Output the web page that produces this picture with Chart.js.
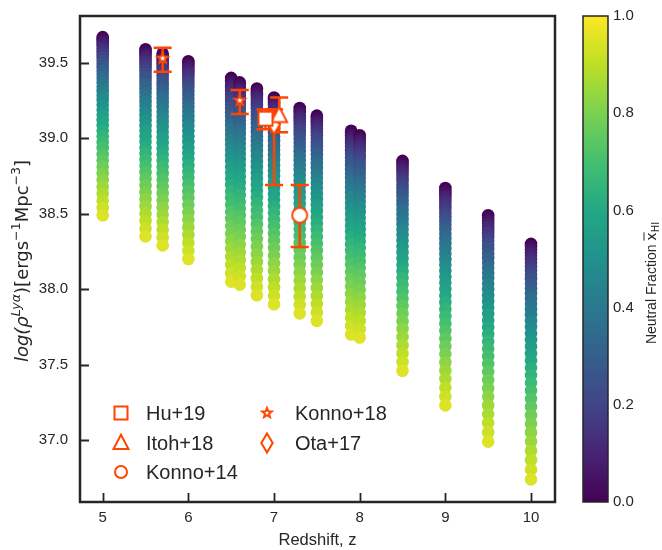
<!DOCTYPE html>
<html>
<head>
<meta charset="utf-8">
<script src="https://cdn.jsdelivr.net/npm/chart.js@4.4.0/dist/chart.umd.min.js"></script>
<style>
html, body { margin: 0; padding: 0; background: #fff; }
#wrap { width: 662px; height: 550px; }
</style>
</head>
<body>
<div id="wrap"><canvas id="lyaChart" width="662" height="550"></canvas></div>
<script>
// ---- data ----
const redshifts = [5, 5.5, 5.7, 6, 6.5, 6.6, 6.8, 7, 7.3, 7.5, 7.9, 8, 8.5, 9, 9.5, 10];
// log rho_Lya at the most ionised end (x_HI = 0) and the most neutral end of each column
const logRhoTop = [39.67, 39.59, 39.56, 39.51, 39.40, 39.37, 39.33, 39.27, 39.20, 39.15, 39.05, 39.02, 38.85, 38.67, 38.49, 38.30];
const logRhoBottom = [38.49, 38.35, 38.29, 38.20, 38.05, 38.03, 37.96, 37.90, 37.84, 37.79, 37.70, 37.68, 37.46, 37.23, 36.99, 36.74];
// neutral fraction of each point in a column, and how far down the column it sits (0 = top, 1 = bottom)
const neutralFraction = [0, 0.025, 0.05, 0.075, 0.1, 0.125, 0.15, 0.175, 0.2, 0.225, 0.25, 0.275, 0.3, 0.325,
  0.35, 0.375, 0.4, 0.425, 0.45, 0.475, 0.5, 0.525, 0.55, 0.575, 0.6, 0.625, 0.65, 0.675, 0.7, 0.725,
  0.75, 0.775, 0.8, 0.825, 0.85, 0.875, 0.9, 0.925, 0.95];
const dropProfile = [0, 0.0113, 0.0233, 0.0362, 0.0499, 0.0645, 0.0798, 0.0959, 0.1129, 0.1307, 0.1492, 0.1686,
  0.1888, 0.2099, 0.2317, 0.2544, 0.2778, 0.3021, 0.3272, 0.3531, 0.3798, 0.4074, 0.4357, 0.4649, 0.4948,
  0.5257, 0.5572, 0.5897, 0.6229, 0.657, 0.6918, 0.7275, 0.764, 0.8013, 0.8394, 0.8784, 0.918, 0.9587, 1];

// observations
const hu19Z = [6.9], hu19Y = [39.13], hu19Up = [0.06], hu19Lo = [0.07];
const itoh18Z = [7.06], itoh18Y = [39.15], itoh18Up = [0.12], itoh18Lo = [0.11];
const konno14Z = [7.3], konno14Y = [38.49], konno14Up = [0.20], konno14Lo = [0.21];
const konno18Z = [5.7, 6.6], konno18Y = [39.53, 39.25], konno18Up = [0.07, 0.07], konno18Lo = [0.09, 0.09];
const ota17Z = [7.0], ota17Y = [39.09], ota17Up = [0.10], ota17Lo = [0.40];

const xTicks = [5, 6, 7, 8, 9, 10];
const yTicks = [37.0, 37.5, 38.0, 38.5, 39.0, 39.5];
const cbTicks = [0, 0.2, 0.4, 0.6, 0.8, 1.0];

// ---- style ----
const ORANGE = '#ff4500';
const INK = '#262626';
const FONT = "'Liberation Sans', Arial, sans-serif";
const MATHFONT = "'DejaVu Sans', sans-serif";
const VIRIDIS = ['#440154', '#482475', '#414487', '#355f8d', '#2a788e', '#21918c',
                 '#22a884', '#44bf70', '#7ad151', '#bddf26', '#fde725'];

function hexRgb(h) {
    return [parseInt(h.slice(1, 3), 16), parseInt(h.slice(3, 5), 16), parseInt(h.slice(5, 7), 16)];
}
function viridis(v) {
    const t = Math.max(0, Math.min(1, v)) * (VIRIDIS.length - 1);
    const i = Math.min(Math.floor(t), VIRIDIS.length - 2);
    const f = t - i;
    const a = hexRgb(VIRIDIS[i]), b = hexRgb(VIRIDIS[i + 1]);
    const c = a.map((x, k) => Math.round(x + (b[k] - x) * f));
    return `rgb(${c[0]},${c[1]},${c[2]})`;
}

function drawMarker(ctx, kind, cx, cy, s) {
    ctx.beginPath();
    if (kind === 'square') {
        ctx.rect(cx - s / 2, cy - s / 2, s, s);
    } else if (kind === 'triangle') {
        ctx.moveTo(cx, cy - s * 0.55);
        ctx.lineTo(cx + s / 2, cy + s * 0.4);
        ctx.lineTo(cx - s / 2, cy + s * 0.4);
        ctx.closePath();
    } else if (kind === 'circle') {
        ctx.arc(cx, cy, s / 2, 0, Math.PI * 2);
    } else if (kind === 'star') {
        for (let k = 0; k < 10; k++) {
            const r = k % 2 ? s * 0.22 : s / 2;
            const a = -Math.PI / 2 + k * Math.PI / 5;
            const px = cx + r * Math.cos(a), py = cy + r * Math.sin(a);
            if (k === 0) ctx.moveTo(px, py); else ctx.lineTo(px, py);
        }
        ctx.closePath();
    } else if (kind === 'diamond') {
        ctx.moveTo(cx, cy - s / 2);
        ctx.lineTo(cx + s * 0.3, cy);
        ctx.lineTo(cx, cy + s / 2);
        ctx.lineTo(cx - s * 0.3, cy);
        ctx.closePath();
    }
    ctx.fillStyle = '#fff';
    ctx.fill();
    ctx.lineWidth = 2;
    ctx.strokeStyle = ORANGE;
    ctx.stroke();
}

function markerImage(kind, s) {
    const c = document.createElement('canvas');
    c.width = Math.ceil(s + 6);
    c.height = Math.ceil(s + 6);
    drawMarker(c.getContext('2d'), kind, c.width / 2, c.height / 2, s);
    return c;
}

// ---- datasets ----
const datasets = [];
redshifts.forEach((z, i) => {
    const span = logRhoTop[i] - logRhoBottom[i];
    datasets.push({
        label: 'z=' + z,
        data: neutralFraction.map((x, k) => ({ x: z, y: logRhoTop[i] - span * dropProfile[k] })),
        pointBackgroundColor: neutralFraction.map(x => viridis(x)),
        pointBorderWidth: 0,
        pointRadius: 6.3,
        showLine: false,
        order: 100 - i
    });
});

const obsSets = [
    { label: 'Hu+19', kind: 'square', size: 14, legend: 13, z: hu19Z, y: hu19Y, up: hu19Up, lo: hu19Lo },
    { label: 'Itoh+18', kind: 'triangle', size: 16, legend: 15, z: itoh18Z, y: itoh18Y, up: itoh18Up, lo: itoh18Lo },
    { label: 'Konno+14', kind: 'circle', size: 15, legend: 12, z: konno14Z, y: konno14Y, up: konno14Up, lo: konno14Lo },
    { label: 'Konno+18', kind: 'star', size: 11, legend: 10, z: konno18Z, y: konno18Y, up: konno18Up, lo: konno18Lo },
    { label: 'Ota+17', kind: 'diamond', size: 19, legend: 19, z: ota17Z, y: ota17Y, up: ota17Up, lo: ota17Lo }
];
obsSets.forEach(o => {
    datasets.push({
        label: o.label,
        isObs: true,
        data: o.z.map((z, k) => ({ x: z, y: o.y[k] })),
        pointStyle: markerImage(o.kind, o.size),
        pointRadius: 6,
        showLine: false,
        order: 0
    });
});

// ---- plugin: frame, inward ticks, error bars, colorbar, rich labels, legend ----
let errorBarsDone = false;
const decorPlugin = {
    id: 'decor',
    beforeDatasetsDraw() { errorBarsDone = false; },
    beforeDatasetDraw(chart, args) {
        const ds = chart.data.datasets[args.index];
        if (!ds.isObs || errorBarsDone) return;
        errorBarsDone = true;
        const ctx = chart.ctx, xs = chart.scales.x, ys = chart.scales.y;
        ctx.save();
        ctx.strokeStyle = ORANGE;
        ctx.lineWidth = 2.5;
        obsSets.forEach(o => {
            o.z.forEach((z, k) => {
                const px = xs.getPixelForValue(z);
                const top = ys.getPixelForValue(o.y[k] + o.up[k]);
                const bot = ys.getPixelForValue(o.y[k] - o.lo[k]);
                ctx.beginPath();
                ctx.moveTo(px, top); ctx.lineTo(px, bot);
                ctx.moveTo(px - 9, top); ctx.lineTo(px + 9, top);
                ctx.moveTo(px - 9, bot); ctx.lineTo(px + 9, bot);
                ctx.stroke();
            });
        });
        ctx.restore();
    },
    afterDraw(chart) {
        const ctx = chart.ctx, a = chart.chartArea;
        const xs = chart.scales.x, ys = chart.scales.y, cb = chart.scales.cb;
        ctx.save();

        // inward ticks
        ctx.strokeStyle = INK;
        ctx.lineWidth = 1.8;
        ctx.beginPath();
        xTicks.forEach(v => {
            const px = Math.round(xs.getPixelForValue(v)) + 0.5;
            ctx.moveTo(px, a.bottom); ctx.lineTo(px, a.bottom - 9);
        });
        yTicks.forEach(v => {
            const py = Math.round(ys.getPixelForValue(v)) + 0.5;
            ctx.moveTo(a.left, py); ctx.lineTo(a.left + 9, py);
        });
        ctx.stroke();

        // frame
        ctx.lineWidth = 2.5;
        ctx.strokeRect(a.left, a.top, a.right - a.left, a.bottom - a.top);

        // colorbar
        const cbL = 583, cbW = 25;
        const cbTop = cb.getPixelForValue(1), cbBot = cb.getPixelForValue(0);
        const g = ctx.createLinearGradient(0, cbBot, 0, cbTop);
        VIRIDIS.forEach((c, i) => g.addColorStop(i / (VIRIDIS.length - 1), c));
        ctx.fillStyle = g;
        ctx.fillRect(cbL, cbTop, cbW, cbBot - cbTop);
        ctx.lineWidth = 1.5;
        ctx.strokeStyle = INK;
        ctx.strokeRect(cbL, cbTop, cbW, cbBot - cbTop);

        // colorbar title
        ctx.save();
        ctx.translate(656, 283);
        ctx.rotate(-Math.PI / 2);
        ctx.fillStyle = INK;
        ctx.textBaseline = 'alphabetic';
        ctx.font = '14px ' + FONT;
        const main = 'Neutral Fraction ';
        const wMain = ctx.measureText(main).width;
        ctx.font = '14px ' + MATHFONT;
        const wX = ctx.measureText('x').width;
        ctx.font = '10px ' + MATHFONT;
        const wSub = ctx.measureText('HI').width;
        const total = wMain + wX + wSub;
        let cx = -total / 2;
        ctx.font = '14px ' + FONT;
        ctx.fillText(main, cx, 0); cx += wMain;
        ctx.font = '14px ' + MATHFONT;
        ctx.fillText('x', cx, 0);
        ctx.fillRect(cx, -12.5, wX, 1);
        cx += wX;
        ctx.font = '10px ' + MATHFONT;
        ctx.fillText('HI', cx, 3);
        ctx.restore();

        // y-axis title
        const parts = [
            { t: 'log(', it: true }, { t: 'ρ', it: true }, { t: 'Lyα', it: true, sup: true },
            { t: ')', it: false }, { t: '[ergs', it: false }, { t: '−1', sup: true },
            { t: 'Mpc', it: false }, { t: '−3', sup: true }, { t: ']', it: false }
        ];
        const fs = 18;
        const fontOf = p => (p.it ? 'italic ' : '') + (p.sup ? fs * 0.7 : fs) + 'px ' + MATHFONT;
        let tw = 0;
        parts.forEach(p => { ctx.font = fontOf(p); p.w = ctx.measureText(p.t).width; tw += p.w; });
        ctx.save();
        ctx.translate(28, 261);
        ctx.rotate(-Math.PI / 2);
        ctx.fillStyle = INK;
        let yx = -tw / 2;
        parts.forEach(p => {
            ctx.font = fontOf(p);
            ctx.fillText(p.t, yx, p.sup ? -fs * 0.42 : 0);
            yx += p.w;
        });
        ctx.restore();

        // legend
        const rows = [413, 443, 472];
        const legendPos = [[121, 146, rows[0]], [121, 146, rows[1]], [121, 146, rows[2]],
                           [267, 295, rows[0]], [267, 295, rows[1]]];
        ctx.font = '20px ' + FONT;
        ctx.textBaseline = 'middle';
        obsSets.forEach((o, i) => {
            const [mx, tx, ty] = legendPos[i];
            drawMarker(ctx, o.kind, mx, ty, o.legend);
            ctx.fillStyle = INK;
            ctx.fillText(o.label, tx, ty + 1);
        });

        ctx.restore();
    }
};

const tickFont = { family: FONT, size: 15 };
// vertical scales add ticks.padding to their top/bottom padding; keep the plot box fixed
const noVPad = s => { s.paddingTop = 0; s.paddingBottom = 0; };

new Chart(document.getElementById('lyaChart'), {
    type: 'scatter',
    data: { datasets: datasets },
    options: {
        responsive: false,
        animation: false,
        events: [],
        layout: { padding: { top: 16, left: 0, right: 0, bottom: 0 } },
        plugins: { legend: { display: false }, tooltip: { enabled: false } },
        scales: {
            x: {
                type: 'linear',
                min: 4.735,
                max: 10.28,
                afterBuildTicks: s => { s.ticks = xTicks.map(v => ({ value: v })); },
                afterFit: s => { s.height = 48; s.paddingLeft = 0; s.paddingRight = 0; },
                ticks: { font: tickFont, color: INK, padding: 7, maxRotation: 0, callback: v => String(v) },
                grid: { display: false, drawTicks: false },
                border: { display: false },
                title: { display: true, text: 'Redshift, z', color: INK, font: { family: FONT, size: 16.5 }, padding: { top: 0, bottom: 0 } }
            },
            y: {
                type: 'linear',
                position: 'left',
                min: 36.59,
                max: 39.81,
                afterBuildTicks: s => { s.ticks = yTicks.map(v => ({ value: v })); },
                afterFit: s => { s.width = 80; noVPad(s); },
                ticks: { font: tickFont, color: INK, padding: 12, callback: v => v.toFixed(1) },
                grid: { display: false, drawTicks: false },
                border: { display: false }
            },
            cb: {
                type: 'linear',
                axis: 'y',
                position: 'right',
                min: 0,
                max: 1,
                afterBuildTicks: s => { s.ticks = cbTicks.map(v => ({ value: v })); },
                afterFit: s => { s.width = 107; noVPad(s); },
                ticks: { font: tickFont, color: INK, padding: 58, callback: v => v.toFixed(1) },
                grid: { display: false, drawTicks: false },
                border: { display: false }
            }
        }
    },
    plugins: [decorPlugin]
});
</script>
</body>
</html>
